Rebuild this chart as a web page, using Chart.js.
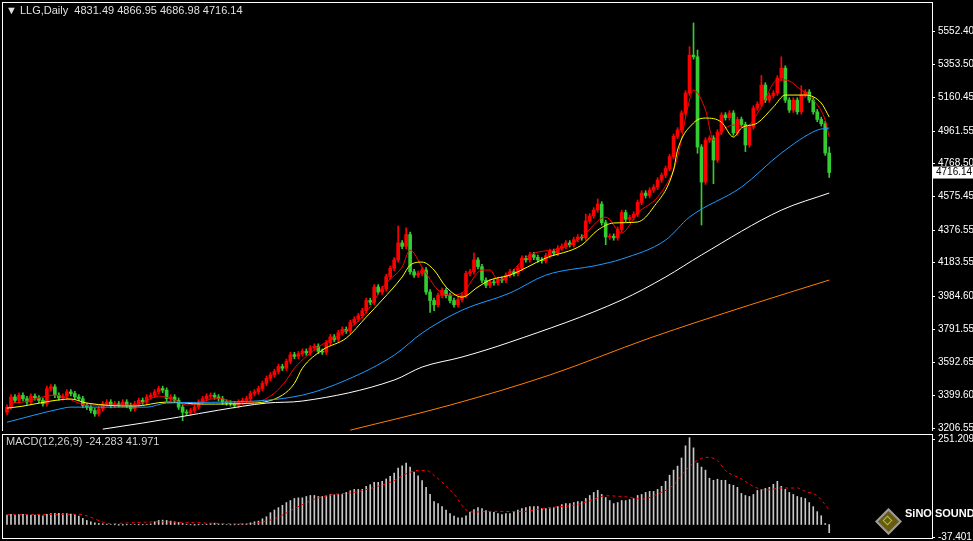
<!DOCTYPE html>
<html>
<head>
<meta charset="utf-8">
<script src="https://cdn.jsdelivr.net/npm/chart.js@4"></script>
<style>
  body { margin: 0; background: #000; width: 973px; height: 541px; overflow: hidden; position: relative; font-family: "Liberation Sans", sans-serif; }
  #mainWrap { position: absolute; left: 0; top: 0; width: 973px; height: 431px; }
  #macdWrap { position: absolute; left: 0; top: 432px; width: 973px; height: 109px; }
  .lbl { position: absolute; color: #e0e0e0; font-size: 11px; white-space: pre; }
  .logo { position: absolute; left: 879px; top: 512px; width: 15px; height: 15px; transform: rotate(45deg);
          border: 2px solid #9a9a9a; background: #6a5a10; }
  .logo2 { position: absolute; left: 884px; top: 517px; width: 5px; height: 5px; transform: rotate(45deg); border: 1px solid #9c3; }
</style>
</head>
<body>
<div id="mainWrap"><canvas id="mainChart"></canvas></div>
<div id="macdWrap"><canvas id="macdChart"></canvas></div>
<div class="lbl" style="left:6px;top:4px;">▼ LLG,Daily  4831.49 4866.95 4686.98 4716.14</div>
<div class="lbl" style="left:6px;top:435px;color:#d0d0d0;">MACD(12,26,9) -24.283 41.971</div>
<div class="logo"></div><div class="logo2"></div>
<div class="lbl" style="left:905px;top:507px;font-weight:bold;font-size:11px;color:#fff;">SiNO SOUND</div>
<script>
// daily closes
const closes = [
  3330,3390,3370,3400,3380,3360,3395,3385,3370,3350,
  3440,3450,3400,3385,3395,
  3420,3410,3390,3380,3340,3330,3310,3290,3320,3350,
  3360,3340,3350,3345,3360,3340,3320,3350,3370,3360,3390,
  3400,3420,3440,3430,3380,3390,3370,3330,3300,3295,
  3310,3330,3360,3380,3395,3400,3390,3380,3360,3355,
  3350,3340,3360,3370,3380,3410,3420,
  3440,3470,3500,3520,3540,3570,3560,3600,3640,3630,
  3645,3660,3650,3680,3690,3660,3655,3710,3745,3730,
  3770,3790,3780,3830,3850,3870,3900,3960,3950,4040,
  4010,4030,4100,4150,4200,4300,4280,4350,4130,4110,
  4120,4140,4010,3960,3935,3990,4020,3990,3960,3935,
  3965,3990,4120,4130,4200,4160,4080,4050,4070,4065,
  4085,4080,4110,4130,4120,4150,4210,4200,4230,4215,
  4200,4195,4225,4250,4240,4270,4280,4300,4290,4320,
  4335,4330,4430,4460,4495,4530,4420,4335,4340,4330,
  4380,4480,4440,4450,4470,4540,4595,4580,4612,4630,
  4672,4700,4740,4810,4930,4967,5068,5186,5410,5400,
  4867,4660,4908,4920,4790,4955,5056,5040,5068,4950,
  5030,5000,4879,4985,5097,5120,5233,5144,5170,5186,
  5274,5333,5144,5085,5144,5075,5175,5192,5144,5075,
  5030,5005,4831.49,4716.14
];
const firstOpen = 3300;
// long wicks that stand out (bar index -> price)
const wickHighs = { 98: 4400, 100: 4390, 117: 4240, 145: 4470, 148: 4560, 171: 5460, 172: 5600, 173: 5440, 189: 5290, 194: 5400, 199: 5230, 206: 4866.95 };
const wickLows = { 44: 3250, 106: 3890, 107: 3900, 150: 4290, 173: 4830, 174: 4406, 177: 4650, 185: 4840, 206: 4686.98 };
const wickPad = 14;

// moving averages, sampled [bar, price]
const maRed = [[1,3354],[4,3360],[12,3401],[15,3383],[20,3342],[32,3342],[38,3395],[42,3372],[45,3342],[53,3383],[57,3360],[62,3360],[67,3413],[70,3490],[72,3560],[78,3685],[84,3768],[89,3862],[95,4063],[99,4158],[101,4258],[104,4158],[108,4022],[111,3992],[114,4004],[119,4140],[121,4140],[123,4081],[131,4229],[140,4276],[144,4335],[150,4453],[154,4359],[158,4477],[163,4571],[167,4731],[168,4808],[171,5145],[172,5204],[175,5085],[177,4908],[180,4979],[182,4997],[185,4985],[189,5103],[193,5263],[195,5263],[199,5204],[202,5145],[205,5026],[206,4926]];
const maYellow = [[0,3324],[4,3336],[11,3366],[16,3378],[20,3354],[32,3336],[40,3360],[49,3348],[62,3354],[69,3401],[72,3470],[74,3560],[79,3667],[85,3738],[90,3862],[94,3963],[99,4099],[101,4169],[104,4187],[107,4140],[110,4040],[114,3980],[118,4040],[121,4081],[126,4110],[135,4211],[144,4288],[148,4376],[152,4418],[158,4424],[162,4512],[167,4731],[168,4849],[172,5009],[175,5038],[179,5014],[182,4926],[184,4979],[188,5009],[192,5103],[195,5174],[200,5174],[204,5127],[206,5044]];
const maBlue = [[0,3241],[13,3318],[16,3330],[35,3330],[40,3354],[55,3360],[74,3401],[85,3490],[97,3637],[104,3768],[114,3903],[126,4004],[135,4110],[148,4169],[154,4205],[165,4317],[171,4453],[184,4630],[194,4831],[203,4967],[206,4979]];
const maWhite = [[24,3200],[34,3236],[43,3271],[53,3312],[65,3354],[74,3366],[97,3490],[104,3567],[114,3626],[126,3714],[154,3963],[165,4099],[174,4229],[194,4494],[206,4595]];
const maOrange = [[86,3194],[111,3342],[136,3520],[161,3738],[186,3933],[206,4081]];

const priceTicks = [5552.40,5353.50,5160.45,4961.55,4768.50,4575.45,4376.55,4183.55,3984.60,3791.55,3592.65,3399.60,3206.55];

// MACD histogram and signal
const macdHist = [
  28,30,28,30,30,28,28,28,27,26,
  30,32,33,33,32,32,31,30,
  25,18,12,8,5,3,2,
  1,0,-1,-2,-2,-1,0,0,-1,-1,0,2,
  8,12,13,12,10,8,
  6,3,1,-1,-2,-1,0,1,
  3,4,2,1,0,-1,-1,1,
  2,2,5,8,10,17,23,35,43,50,57,65,71,77,79,79,83,86,86,83,
  83,85,89,88,89,89,95,100,104,104,104,113,118,125,125,128,135,143,152,167,
  174,182,170,155,144,130,110,89,68,62,53,43,32,25,20,20,26,37,44,50,
  47,41,38,36,32,29,32,32,38,43,47,50,53,53,53,
  47,47,47,50,53,59,62,62,65,68,68,77,86,95,101,89,80,71,62,65,
  71,71,74,77,86,89,95,98,98,104,113,128,146,161,173,197,233,257,227,182,
  170,161,137,131,134,131,131,119,116,110,92,86,83,89,101,104,107,110,119,128,
  113,104,95,89,83,80,77,65,53,38,26,3,-24.283
];
const macdSignal = [[0,29],[18,30],[26,3],[38,8],[45,6],[60,2],[67,17],[72,47],[77,75],[82,89],[87,95],[92,110],[97,130],[100,150],[103,160],[105,160],[107,145],[112,90],[115,43],[117,37],[122,39],[129,38],[133,45],[135,49],[142,57],[146,70],[150,85],[155,82],[159,75],[163,90],[167,117],[170,160],[173,190],[175,199],[178,190],[180,160],[184,135],[187,113],[190,102],[194,108],[198,108],[200,98],[203,85],[205,58],[206,41.971]];

const upColor = '#ff0000';
const downColor = '#33cc33';

const opens = closes.map((c, i) => i === 0 ? firstOpen : closes[i - 1]);
const bodies = closes.map((c, i) => ({ x: i, y: [opens[i], c] }));
const wicks = closes.map((c, i) => ({
  x: i,
  y: [wickLows[i] !== undefined ? wickLows[i] : Math.min(opens[i], c) - wickPad,
      wickHighs[i] !== undefined ? wickHighs[i] : Math.max(opens[i], c) + wickPad]
}));
const candleColors = closes.map((c, i) => c >= opens[i] ? upColor : downColor);
const toPts = arr => arr.map(p => ({ x: p[0], y: p[1] }));

const xScale = { type: 'linear', display: false, offset: false, min: -1.25, max: 231.75, bounds: 'ticks' };

function maLine(pts, color) {
  return { type: 'line', data: toPts(pts), borderColor: color, borderWidth: 1, pointRadius: 0, cubicInterpolationMode: 'monotone', order: 0 };
}

function fitAxis(s) {
  s.width = 41;
  s.paddingTop = 0;
  s.paddingBottom = 0;
}

const framePlugin = {
  id: 'frame',
  afterDraw(chart) {
    const a = chart.chartArea, ctx = chart.ctx;
    ctx.save();
    ctx.strokeStyle = '#ffffff';
    ctx.lineWidth = 1;
    ctx.strokeRect(Math.round(a.left) + 0.5, Math.round(a.top) + 0.5, Math.round(a.width), Math.round(a.height));
    if (chart.canvas.id === 'mainChart') {
      const y = chart.scales.y.getPixelForValue(closes[closes.length - 1]);
      ctx.fillStyle = '#ffffff';
      ctx.fillRect(a.right + 1, y - 6, 41, 12);
      ctx.fillStyle = '#000000';
      ctx.font = '10px "Liberation Sans"';
      ctx.textBaseline = 'middle';
      ctx.fillText(closes[closes.length - 1].toFixed(2), a.right + 4, y);
    }
    ctx.restore();
  }
};

new Chart(document.getElementById('mainChart'), {
  type: 'bar',
  data: {
    datasets: [
      maLine(maOrange, '#ff7f00'),
      maLine(maWhite, '#ffffff'),
      maLine(maBlue, '#1e9bff'),
      maLine(maYellow, '#ffff00'),
      maLine(maRed, '#ff0000'),
      { type: 'bar', data: bodies, backgroundColor: candleColors, barThickness: 3, grouped: false, order: 1 },
      { type: 'bar', data: wicks, backgroundColor: candleColors, barThickness: 1, grouped: false, order: 2 }
    ]
  },
  options: {
    responsive: true,
    maintainAspectRatio: false,
    animation: false,
    layout: { padding: { top: 2, left: 2 } },
    plugins: { legend: { display: false }, tooltip: { enabled: false } },
    scales: {
      x: xScale,
      y: {
        position: 'right',
        min: 3189, max: 5723.8,
        afterBuildTicks: s => { s.ticks = priceTicks.map(v => ({ value: v })); },
        afterFit: fitAxis,
        ticks: { color: '#ffffff', font: { family: 'Liberation Sans', size: 10 }, padding: 3, callback: v => v.toFixed(2) },
        grid: { drawOnChartArea: false, tickLength: 3, color: '#ffffff' },
        border: { color: '#ffffff' }
      }
    }
  },
  plugins: [framePlugin]
});

new Chart(document.getElementById('macdChart'), {
  type: 'bar',
  data: {
    datasets: [
      { type: 'line', data: toPts(macdSignal), borderColor: '#ff0000', borderWidth: 1, borderDash: [3, 3], pointRadius: 0, cubicInterpolationMode: 'monotone', order: 0 },
      { type: 'bar', data: macdHist.map((v, i) => ({ x: i, y: v })), backgroundColor: '#c8c8c8', barThickness: 1, order: 1 }
    ]
  },
  options: {
    responsive: true,
    maintainAspectRatio: false,
    animation: false,
    layout: { padding: { top: 2, left: 2, bottom: 3 } },
    plugins: { legend: { display: false }, tooltip: { enabled: false } },
    scales: {
      x: xScale,
      y: {
        position: 'right',
        min: -40, max: 268,
        afterBuildTicks: s => { s.ticks = [251.209, -37.401].map(v => ({ value: v })); },
        afterFit: fitAxis,
        ticks: { color: '#ffffff', font: { family: 'Liberation Sans', size: 10 }, padding: 3, callback: v => v.toFixed(3) },
        grid: { drawOnChartArea: false, tickLength: 3, color: '#ffffff' },
        border: { color: '#ffffff' }
      }
    }
  },
  plugins: [framePlugin]
});
</script>
</body>
</html>
